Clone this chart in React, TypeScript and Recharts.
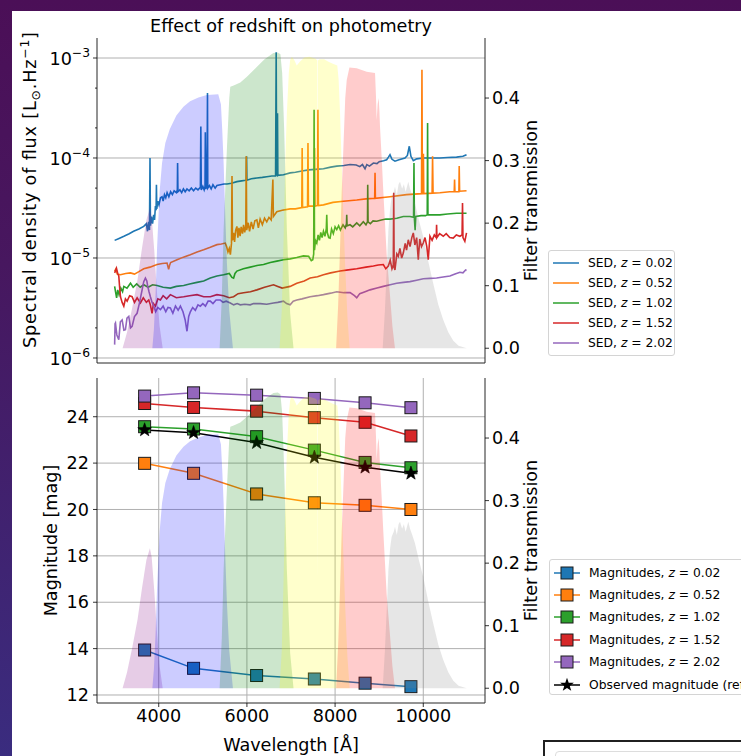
import React from 'react';
import { LineChart, ComposedChart, Line, Area, XAxis, YAxis, CartesianGrid } from 'recharts';

// ---------- layout & style ----------
const FONT = '"DejaVu Sans", Verdana, sans-serif';
const INK = '#000000';
const FRAME = '#262626';
const GRID = '#b0b0b0';
const FS = 17.6;
const FS_SMALL = 12.3;

const PAGE_W = 741;
const PAGE_H = 756;
const PLOT_L = 97;
const PLOT_R = 485;
const RIGHT_W = PAGE_W - PLOT_R;

// top panel (spectra)
const TOP_Y = 0;
const TOP_H = 380;
const TOP_PLOT_T = 38;
const TOP_PLOT_B = 363;
const TOP_XAXIS_H = 10;
// bottom panel (magnitudes)
const BOT_Y = 370;
const BOT_H = 386;
const BOT_PLOT_T = 378;
const BOT_PLOT_B = 703;
const BOT_XAXIS_H = 25;

// ---------- axes ----------
const wavelengthDomain: [number, number] = [2600, 11400];
const wavelengthTicks = [4000, 6000, 8000, 10000];
const fluxDomain: [number, number] = [8.91e-7, 1.585e-3];
const fluxMajorTicks = [1e-6, 1e-5, 1e-4, 1e-3];
const fluxMinorTicks = [
  2e-6, 3e-6, 4e-6, 5e-6, 6e-6, 7e-6, 8e-6, 9e-6,
  2e-5, 3e-5, 4e-5, 5e-5, 6e-5, 7e-5, 8e-5, 9e-5,
  2e-4, 3e-4, 4e-4, 5e-4, 6e-4, 7e-4, 8e-4, 9e-4,
];
const transDomain: [number, number] = [-0.0236, 0.496];
const transTicks = [0, 0.1, 0.2, 0.3, 0.4];
const magDomain: [number, number] = [11.655, 25.67];
const magTicks = [12, 14, 16, 18, 20, 22, 24];

// ---------- series ----------
const redshiftLabels = ['0.02', '0.52', '1.02', '1.52', '2.02'];
const seriesColors = ['#1f77b4', '#ff7f0e', '#2ca02c', '#d62728', '#9467bd'];

// SEDs: [wavelength (Å), flux density (L_sun/Hz)]
const sedZ002: [number, number][] = [
  [3000, 1.5e-5], [3100, 1.57e-5], [3210, 1.65e-5], [3330, 1.75e-5], [3430, 1.85e-5], [3550, 1.95e-5],
  [3660, 2.07e-5], [3720, 2.2e-5], [3745, 1.85e-5], [3770, 2.3e-5], [3790, 1.9e-5], [3802, 1.0e-4],
  [3812, 2.1e-5], [3835, 2.6e-5], [3860, 2.2e-5], [3885, 2.7e-5], [3905, 2.4e-5], [3925, 3.3e-5],
  [3940, 3.0e-5], [3948, 5.4e-5], [3956, 3.1e-5], [3980, 3.7e-5], [4005, 3.4e-5], [4040, 4.0e-5],
  [4075, 4.1e-5], [4100, 3.7e-5], [4130, 4.3e-5], [4160, 4.0e-5], [4190, 4.5e-5], [4230, 4.1e-5],
  [4270, 4.6e-5], [4310, 4.3e-5], [4350, 4.7e-5], [4400, 4.5e-5], [4422, 4.8e-5], [4428, 8.9e-5],
  [4436, 4.6e-5], [4480, 4.8e-5], [4520, 4.5e-5], [4560, 4.9e-5], [4600, 4.6e-5], [4641, 4.9e-5],
  [4690, 4.7e-5], [4740, 5.0e-5], [4790, 4.7e-5], [4840, 5.0e-5], [4890, 4.8e-5], [4945, 5.1e-5],
  [4955, 2.07e-4], [4965, 4.8e-5], [5000, 5.2e-5], [5030, 4.8e-5], [5050, 5.2e-5], [5057, 1.81e-4],
  [5064, 4.9e-5], [5085, 5.1e-5], [5100, 1.41e-4], [5106, 4.47e-4], [5112, 5.0e-5], [5150, 5.3e-5],
  [5190, 4.9e-5], [5230, 5.4e-5], [5280, 5.0e-5], [5320, 5.3e-5], [5400, 5.4e-5], [5480, 5.5e-5],
  [5550, 5.5e-5], [5650, 5.6e-5], [5773, 5.8e-5], [5880, 5.9e-5], [5985, 6.0e-5], [5992, 1.04e-4],
  [6000, 6.0e-5], [6100, 6.2e-5], [6226, 6.3e-5], [6350, 6.4e-5], [6450, 6.5e-5], [6566, 6.6e-5],
  [6650, 6.6e-5], [6664, 1.14e-3], [6674, 6.8e-5], [6688, 6.7e-5], [6694, 2.8e-4], [6702, 6.7e-5],
  [6830, 6.8e-5], [6981, 7.1e-5], [7100, 7.2e-5], [7250, 7.4e-5], [7400, 7.6e-5], [7550, 7.7e-5],
  [7736, 7.8e-5], [7900, 8.1e-5], [8038, 8.3e-5], [8200, 8.4e-5], [8340, 8.6e-5], [8480, 8.5e-5],
  [8560, 8.2e-5], [8620, 8.6e-5], [8679, 7.8e-5], [8720, 8.6e-5], [8780, 8.3e-5], [8868, 8.9e-5],
  [8950, 8.8e-5], [9000, 9.2e-5], [9100, 9.4e-5], [9170, 9.6e-5], [9210, 1.02e-4], [9245, 1.08e-4],
  [9290, 9.7e-5], [9358, 9.3e-5], [9450, 9.6e-5], [9585, 1.0e-4], [9640, 1.06e-4], [9683, 1.31e-4],
  [9720, 1.04e-4], [9774, 9.4e-5], [9850, 9.8e-5], [10000, 1.0e-4], [10200, 1.0e-4], [10377, 1.0e-4],
  [10550, 1.01e-4], [10755, 1.02e-4], [10900, 1.04e-4], [10981, 1.08e-4],
];

const sedZ052: [number, number][] = [
  [3000, 7.4e-6], [3030, 7.8e-6], [3060, 6.9e-6], [3132, 6.8e-6], [3250, 7.0e-6], [3359, 7.1e-6],
  [3450, 6.9e-6], [3550, 7.3e-6], [3660, 7.8e-6], [3800, 8.1e-6], [3962, 8.6e-6], [4080, 8.8e-6],
  [4189, 8.9e-6], [4225, 7.7e-6], [4245, 8.4e-6], [4270, 9.0e-6], [4415, 9.6e-6], [4560, 1.02e-5],
  [4717, 1.08e-5], [4870, 1.15e-5], [5019, 1.21e-5], [5170, 1.28e-5], [5321, 1.36e-5], [5420, 1.38e-5],
  [5509, 1.41e-5], [5540, 1.3e-5], [5570, 1.15e-5], [5600, 1.25e-5], [5625, 1.08e-5], [5650, 1.4e-5],
  [5662, 6.6e-5], [5672, 1.5e-5], [5698, 1.78e-5], [5720, 1.45e-5], [5745, 1.9e-5], [5773, 2.07e-5],
  [5795, 1.6e-5], [5820, 2.0e-5], [5845, 1.65e-5], [5870, 2.05e-5], [5900, 1.75e-5], [5925, 2.15e-5],
  [5950, 1.8e-5], [5975, 2.1e-5], [5985, 1.04e-4], [5995, 1.9e-5], [6030, 2.25e-5], [6060, 1.85e-5],
  [6100, 2.3e-5], [6140, 1.95e-5], [6180, 2.35e-5], [6226, 2.4e-5], [6260, 2.0e-5], [6300, 2.45e-5],
  [6350, 2.15e-5], [6400, 2.5e-5], [6450, 2.3e-5], [6500, 2.55e-5], [6550, 2.4e-5], [6589, 6.1e-5],
  [6600, 2.6e-5], [6679, 2.9e-5], [6800, 3.0e-5], [6981, 3.1e-5], [7100, 3.1e-5], [7245, 3.2e-5],
  [7253, 1.26e-4], [7262, 3.2e-5], [7375, 3.25e-5], [7385, 1.41e-4], [7395, 3.3e-5], [7525, 3.3e-5],
  [7535, 1.26e-4], [7545, 3.3e-5], [7600, 3.35e-5], [7611, 3.04e-4], [7622, 3.35e-5], [7736, 3.4e-5],
  [7950, 3.6e-5], [8189, 3.7e-5], [8491, 3.8e-5], [8700, 3.9e-5], [8898, 3.95e-5], [8906, 7.1e-5],
  [8914, 3.95e-5], [9245, 4.1e-5], [9622, 4.3e-5], [9960, 4.4e-5], [9970, 7.64e-4], [9980, 4.4e-5],
  [9995, 4.4e-5], [10003, 1.1e-4], [10012, 4.4e-5], [10200, 4.45e-5], [10211, 1.04e-4], [10222, 4.45e-5],
  [10377, 4.5e-5], [10600, 4.6e-5], [10702, 4.6e-5], [10710, 6.1e-5], [10718, 4.6e-5], [10808, 4.6e-5],
  [10815, 8.3e-5], [10824, 4.65e-5], [10981, 4.7e-5],
];

const sedZ102: [number, number][] = [
  [3000, 5.2e-6], [3020, 4.6e-6], [3045, 4.0e-6], [3070, 4.8e-6], [3100, 4.3e-6], [3140, 5.0e-6],
  [3180, 4.6e-6], [3208, 5.2e-6], [3280, 5.0e-6], [3359, 5.6e-6], [3420, 5.1e-6], [3500, 5.5e-6],
  [3580, 5.1e-6], [3660, 5.4e-6], [3760, 5.1e-6], [3860, 5.4e-6], [3962, 5.3e-6], [4100, 5.1e-6],
  [4264, 5.0e-6], [4400, 5.2e-6], [4566, 5.3e-6], [4700, 5.5e-6], [4868, 5.7e-6], [5020, 5.9e-6],
  [5170, 6.3e-6], [5320, 6.6e-6], [5472, 6.8e-6], [5600, 7.0e-6], [5660, 6.4e-6], [5698, 6.3e-6],
  [5730, 7.0e-6], [5773, 7.4e-6], [5920, 7.8e-6], [6075, 8.1e-6], [6226, 8.4e-6], [6377, 8.6e-6],
  [6530, 9.0e-6], [6679, 9.3e-6], [6830, 9.6e-6], [6981, 9.8e-6], [7130, 1.01e-5], [7283, 1.05e-5],
  [7400, 1.04e-5], [7460, 9.4e-6], [7494, 9.6e-6], [7515, 1.1e-5], [7524, 3.04e-4], [7533, 1.2e-5],
  [7555, 1.5e-5], [7585, 1.41e-5], [7615, 1.7e-5], [7645, 1.5e-5], [7675, 1.8e-5], [7705, 1.6e-5],
  [7736, 1.85e-5], [7770, 1.65e-5], [7800, 1.95e-5], [7811, 2.7e-5], [7822, 1.8e-5], [7855, 1.6e-5],
  [7887, 1.58e-5], [7920, 1.95e-5], [7960, 1.75e-5], [8000, 2.05e-5], [8038, 1.92e-5], [8080, 2.1e-5],
  [8120, 1.9e-5], [8180, 2.15e-5], [8230, 2.0e-5], [8258, 2.2e-5], [8264, 2.7e-5], [8272, 2.1e-5],
  [8340, 2.15e-5], [8400, 2.05e-5], [8491, 2.24e-5], [8560, 2.1e-5], [8640, 2.3e-5], [8700, 2.15e-5],
  [8735, 2.3e-5], [8740, 5.4e-5], [8748, 2.3e-5], [8800, 2.2e-5], [8860, 2.35e-5], [8943, 2.33e-5],
  [9050, 2.4e-5], [9150, 2.45e-5], [9245, 2.45e-5], [9400, 2.5e-5], [9547, 2.6e-5], [9700, 2.6e-5],
  [9780, 2.55e-5], [9789, 8.9e-5], [9798, 2.5e-5], [9815, 1.9e-5], [9830, 2.6e-5], [9950, 2.65e-5],
  [10050, 2.65e-5], [10090, 2.7e-5], [10098, 2.24e-4], [10106, 2.7e-5], [10250, 2.7e-5], [10377, 2.7e-5],
  [10550, 2.75e-5], [10755, 2.8e-5], [10900, 2.8e-5], [10981, 2.8e-5],
];

const sedZ152: [number, number][] = [
  [3000, 7.1e-6], [3041, 7.9e-6], [3070, 7.0e-6], [3094, 6.6e-6], [3115, 5.0e-6], [3132, 4.1e-6],
  [3170, 3.6e-6], [3208, 3.3e-6], [3245, 3.9e-6], [3283, 3.7e-6], [3340, 4.2e-6], [3396, 4.1e-6],
  [3450, 3.6e-6], [3510, 4.0e-6], [3585, 3.55e-6], [3650, 4.0e-6], [3720, 3.6e-6], [3774, 3.8e-6],
  [3810, 3.4e-6], [3849, 2.8e-6], [3880, 3.5e-6], [3925, 3.3e-6], [3980, 3.9e-6], [4038, 3.8e-6],
  [4100, 4.2e-6], [4180, 3.9e-6], [4264, 4.3e-6], [4400, 4.0e-6], [4566, 4.1e-6], [4700, 4.2e-6],
  [4868, 4.3e-6], [5020, 4.1e-6], [5170, 4.1e-6], [5320, 4.3e-6], [5472, 4.2e-6], [5600, 4.0e-6],
  [5698, 4.1e-6], [5800, 4.4e-6], [5925, 4.5e-6], [6080, 4.6e-6], [6226, 4.8e-6], [6400, 5.1e-6],
  [6604, 5.4e-6], [6700, 5.2e-6], [6800, 5.0e-6], [6981, 5.2e-6], [7132, 5.6e-6], [7300, 5.9e-6],
  [7434, 6.3e-6], [7600, 6.5e-6], [7736, 6.8e-6], [7900, 7.1e-6], [8113, 7.4e-6], [8300, 7.6e-6],
  [8491, 7.8e-6], [8700, 8.1e-6], [8868, 8.3e-6], [8980, 8.5e-6], [9094, 8.6e-6], [9150, 7.8e-6],
  [9207, 8.3e-6], [9250, 9.5e-6], [9290, 7.8e-6], [9320, 8.5e-6], [9330, 4.5e-5], [9340, 8.0e-6],
  [9358, 7.6e-6], [9400, 1.1e-5], [9434, 1.04e-5], [9470, 1.25e-5], [9510, 1.0e-5], [9547, 1.12e-5],
  [9590, 1.4e-5], [9620, 1.2e-5], [9660, 1.52e-5], [9700, 1.3e-5], [9740, 1.6e-5], [9774, 1.78e-5],
  [9810, 1.35e-5], [9850, 1.6e-5], [9887, 9.6e-6], [9920, 1.55e-5], [9960, 1.3e-5], [10000, 1.41e-5],
  [10040, 1.6e-5], [10080, 1.3e-5], [10113, 9.6e-6], [10151, 1.65e-5], [10200, 1.5e-5], [10250, 1.7e-5],
  [10295, 1.6e-5], [10302, 2.15e-5], [10310, 1.6e-5], [10370, 1.75e-5], [10453, 1.65e-5], [10520, 1.75e-5],
  [10600, 1.6e-5], [10679, 1.58e-5], [10750, 1.7e-5], [10830, 1.65e-5], [10880, 1.7e-5], [10890, 3.55e-5],
  [10900, 1.6e-5], [10943, 1.47e-5], [10981, 1.78e-5],
];

const sedZ202: [number, number][] = [
  [3000, 1.36e-6], [3010, 2.2e-6], [3019, 2.24e-6], [3050, 1.7e-6], [3094, 1.52e-6], [3130, 2.3e-6],
  [3170, 2.4e-6], [3210, 1.9e-6], [3245, 1.92e-6], [3280, 2.5e-6], [3321, 2.6e-6], [3360, 2.0e-6],
  [3396, 2.07e-6], [3450, 2.6e-6], [3509, 2.8e-6], [3560, 3.5e-6], [3623, 4.8e-6], [3660, 5.8e-6],
  [3698, 6.3e-6], [3730, 5.9e-6], [3751, 5.2e-6], [3780, 4.6e-6], [3811, 4.1e-6], [3850, 3.6e-6],
  [3887, 3.3e-6], [3930, 2.9e-6], [3980, 3.2e-6], [4038, 3.04e-6], [4100, 3.3e-6], [4160, 2.9e-6],
  [4210, 3.2e-6], [4264, 3.16e-6], [4320, 2.8e-6], [4380, 3.3e-6], [4440, 3.0e-6], [4491, 3.3e-6],
  [4550, 2.9e-6], [4600, 2.4e-6], [4641, 1.85e-6], [4680, 2.6e-6], [4717, 2.9e-6], [4770, 3.2e-6],
  [4830, 3.0e-6], [4890, 3.4e-6], [4943, 3.3e-6], [5000, 3.5e-6], [5060, 3.3e-6], [5120, 3.7e-6],
  [5170, 3.7e-6], [5230, 3.5e-6], [5300, 3.8e-6], [5396, 3.8e-6], [5460, 3.6e-6], [5530, 3.7e-6],
  [5623, 3.55e-6], [5700, 3.4e-6], [5780, 3.5e-6], [5849, 3.4e-6], [5950, 3.45e-6], [6075, 3.4e-6],
  [6150, 3.5e-6], [6302, 3.5e-6], [6450, 3.45e-6], [6604, 3.55e-6], [6700, 3.6e-6], [6830, 3.7e-6],
  [6900, 3.5e-6], [6981, 3.4e-6], [7050, 3.7e-6], [7132, 3.8e-6], [7250, 3.9e-6], [7434, 4.1e-6],
  [7600, 4.2e-6], [7736, 4.3e-6], [7900, 4.45e-6], [8038, 4.6e-6], [8200, 4.5e-6], [8340, 4.5e-6],
  [8440, 4.2e-6], [8491, 4.0e-6], [8560, 4.4e-6], [8680, 4.6e-6], [8792, 4.8e-6], [8950, 5.0e-6],
  [9094, 5.2e-6], [9250, 5.4e-6], [9396, 5.6e-6], [9550, 5.7e-6], [9698, 5.8e-6], [9850, 6.0e-6],
  [10000, 6.2e-6], [10150, 6.25e-6], [10302, 6.3e-6], [10450, 6.45e-6], [10604, 6.6e-6], [10720, 6.9e-6],
  [10830, 7.2e-6], [10900, 7.1e-6], [10960, 7.6e-6], [10981, 7.5e-6],
];

const sedSpectra = [sedZ002, sedZ052, sedZ102, sedZ152, sedZ202];

// Filter transmission curves: [wavelength (Å), transmission]
const filterU: [number, number][] = [
  [3180, 0], [3280, 0.025], [3400, 0.065], [3520, 0.11], [3620, 0.16], [3720, 0.205], [3800, 0.224],
  [3840, 0.21], [3900, 0.155], [3960, 0.09], [4020, 0.035], [4090, 0],
];
const filterG: [number, number][] = [
  [3855, 0], [3890, 0.03], [3930, 0.09], [3962, 0.16], [4020, 0.25], [4075, 0.296], [4150, 0.328],
  [4250, 0.35], [4400, 0.372], [4560, 0.386], [4710, 0.395], [4900, 0.401], [5090, 0.405], [5350, 0.406],
  [5411, 0.39], [5440, 0.35], [5472, 0.296], [5510, 0.21], [5547, 0.136], [5600, 0.06], [5683, 0],
];
const filterR: [number, number][] = [
  [5381, 0], [5430, 0.08], [5472, 0.19], [5547, 0.32], [5600, 0.4], [5623, 0.418], [5700, 0.42],
  [5850, 0.425], [6000, 0.434], [6200, 0.448], [6400, 0.462], [6600, 0.472], [6700, 0.473], [6760, 0.47],
  [6800, 0.44], [6845, 0.35], [6906, 0.19], [6981, 0.056], [7057, 0],
];
const filterI: [number, number][] = [
  [6740, 0], [6790, 0.06], [6830, 0.17], [6870, 0.3], [6906, 0.376], [6950, 0.44], [6981, 0.461],
  [7020, 0.466], [7080, 0.46], [7130, 0.452], [7200, 0.458], [7300, 0.465], [7420, 0.466], [7560, 0.463],
  [7596, 0.46], [7603, 0.17], [7610, 0.46], [7650, 0.462], [7750, 0.462], [7850, 0.458], [7950, 0.455],
  [8050, 0.452], [8080, 0.43], [8113, 0.376], [8173, 0.242], [8226, 0.136], [8280, 0.05], [8330, 0],
];
const filterZ: [number, number][] = [
  [8023, 0], [8070, 0.07], [8113, 0.162], [8150, 0.25], [8189, 0.322], [8230, 0.4], [8264, 0.429],
  [8325, 0.449], [8491, 0.4475], [8717, 0.442], [8906, 0.44], [8928, 0.402], [8943, 0.365], [8965, 0.39],
  [8988, 0.4], [9005, 0.38], [9019, 0.354], [9060, 0.3], [9094, 0.25], [9170, 0.15], [9245, 0.085],
  [9300, 0.035], [9358, 0],
];
const filterY: [number, number][] = [
  [9079, 0], [9130, 0.06], [9180, 0.14], [9210, 0.19], [9250, 0.225], [9283, 0.242], [9330, 0.25],
  [9359, 0.258], [9400, 0.245], [9440, 0.262], [9472, 0.266], [9520, 0.255], [9560, 0.262], [9600, 0.25],
  [9661, 0.266], [9700, 0.255], [9750, 0.245], [9812, 0.232], [9900, 0.205], [10000, 0.178], [10110, 0.14],
  [10227, 0.103], [10340, 0.07], [10454, 0.045], [10570, 0.025], [10681, 0.012], [10800, 0.004], [10985, 0],
];
const filterCurves = [filterU, filterG, filterR, filterI, filterZ, filterY];
const filterColors = ['#800080', '#0000ff', '#008000', '#ffff00', '#ff0000', '#808080'];

// Synthetic magnitudes at each band's effective wavelength
const bandWavelengths = [3680, 4790, 6220, 7530, 8680, 9720];
const magZ002 = [13.94, 13.15, 12.84, 12.69, 12.51, 12.36];
const magZ052 = [21.99, 21.56, 20.67, 20.29, 20.18, 20.0];
const magZ102 = [23.57, 23.47, 23.14, 22.56, 22.03, 21.8];
const magZ152 = [24.57, 24.4, 24.24, 23.96, 23.76, 23.17];
const magZ202 = [24.89, 25.03, 24.93, 24.79, 24.6, 24.39];
const magObserved = [23.43, 23.31, 22.88, 22.25, 21.82, 21.56];
const magnitudes = [magZ002, magZ052, magZ102, magZ152, magZ202];

// ---------- helpers ----------
const toFlux = (s: [number, number][]) => s.map(([w, f]) => ({ w, f }));
const toTrans = (s: [number, number][]) => s.map(([w, t]) => ({ w, t }));
const toMag = (m: number[]) => bandWavelengths.map((w, i) => ({ w, m: m[i] }));

const starPath = (cx: number, cy: number, R: number, r: number) => {
  let d = '';
  for (let i = 0; i < 10; i++) {
    const a = -Math.PI / 2 + (i * Math.PI) / 5;
    const rad = i % 2 === 0 ? R : r;
    d += (i === 0 ? 'M' : 'L') + (cx + rad * Math.cos(a)).toFixed(2) + ',' + (cy + rad * Math.sin(a)).toFixed(2);
  }
  return d + 'Z';
};

const squareDot = (color: string) => (p: any) => {
  const { cx, cy, index } = p;
  if (cx == null || cy == null) return <g key={`s${index}`} />;
  return (
    <rect key={`s${index}`} x={cx - 6} y={cy - 6} width={12} height={12} fill={color} stroke="#1a1a1a" strokeWidth={1} />
  );
};

const starDot = (p: any) => {
  const { cx, cy, index } = p;
  if (cx == null || cy == null) return <g key={`k${index}`} />;
  return <path key={`k${index}`} d={starPath(cx, cy, 7.2, 2.9)} fill="#000" stroke="#000" strokeWidth={0.6} />;
};

// log axis tick: long tick + 10^n label for decades, short tick for the rest
const PowerTick = (props: any) => {
  const { x, y, payload } = props;
  const v = payload.value as number;
  const major = fluxMajorTicks.includes(v);
  const exp = Math.round(Math.log10(v));
  const len = major ? 4 : 2;
  return (
    <g>
      <line x1={PLOT_L - len} x2={PLOT_L} y1={y} y2={y} stroke={INK} strokeWidth={0.8} />
      {major && (
        <text x={x} y={y + 7} textAnchor="end" fontSize={FS} fontFamily={FONT} fill={INK}>
          10
          <tspan dy={-8} fontSize={FS_SMALL}>{`\u2212${-exp}`}</tspan>
        </text>
      )}
    </g>
  );
};

const tickText = { fontSize: FS, fill: INK, fontFamily: FONT };
const axisStroke = { stroke: FRAME, strokeWidth: 1 };
const tickStroke = { stroke: INK, strokeWidth: 0.8 };

// ---------- legend ----------
type LegendItem = { label: React.ReactNode; color: string; marker: 'none' | 'square' | 'star' };

const zLabel = (prefix: string, z: string) => (
  <>
    {prefix}, <span style={{ fontStyle: 'italic' }}>z</span> = {z}
  </>
);

const LegendBox = ({ left, top, width, height, first, step, items }: {
  left: number; top: number; width: number; height: number; first: number; step: number; items: LegendItem[];
}) => (
  <div
    style={{
      position: 'absolute', left, top, width, height, boxSizing: 'border-box',
      border: '1px solid #d4d4d4', borderRadius: 3, background: 'rgba(255,255,255,0.85)',
      fontFamily: FONT, fontSize: FS_SMALL, color: INK,
    }}
  >
    {items.map((it, i) => (
      <div
        key={i}
        style={{
          position: 'absolute', left: 0, top: first + i * step - 10, height: 20,
          display: 'flex', alignItems: 'center', whiteSpace: 'nowrap',
        }}
      >
        <svg width={39} height={20} style={{ display: 'block', flex: '0 0 auto' }}>
          <line x1={4} x2={30} y1={10} y2={10} stroke={it.color} strokeWidth={1.5} />
          {it.marker === 'square' && (
            <rect x={11} y={4} width={12} height={12} fill={it.color} stroke="#1a1a1a" strokeWidth={1} />
          )}
          {it.marker === 'star' && <path d={starPath(17, 10, 7.2, 2.9)} fill="#000" />}
        </svg>
        <span style={{ lineHeight: '20px' }}>{it.label}</span>
      </div>
    ))}
  </div>
);

const sedLegend: LegendItem[] = redshiftLabels.map((z, i) => ({
  label: zLabel('SED', z), color: seriesColors[i], marker: 'none',
}));
const magLegend: LegendItem[] = [
  ...redshiftLabels.map((z, i) => ({ label: zLabel('Magnitudes', z), color: seriesColors[i], marker: 'square' as const })),
  { label: 'Observed magnitude (reference)', color: '#000', marker: 'star' },
];

// ---------- panels ----------
const FilterOverlay = ({ height, plotTop, plotBottom }: { height: number; plotTop: number; plotBottom: number }) => (
  <ComposedChart
    width={PAGE_W}
    height={height}
    margin={{ top: plotTop, left: PLOT_L, right: RIGHT_W, bottom: height - plotBottom }}
  >
    <XAxis dataKey="w" type="number" domain={wavelengthDomain} allowDataOverflow hide />
    <YAxis type="number" domain={transDomain} allowDataOverflow hide />
    {filterCurves.map((c, i) => (
      <Area
        key={i}
        data={toTrans(c)}
        dataKey="t"
        type="linear"
        baseValue={0}
        fill={filterColors[i]}
        fillOpacity={0.2}
        stroke="none"
        dot={false}
        activeDot={false}
        isAnimationActive={false}
      />
    ))}
  </ComposedChart>
);

const TransmissionAxis = () => (
  <YAxis
    yAxisId="t"
    orientation="right"
    type="number"
    domain={transDomain}
    allowDataOverflow
    ticks={transTicks}
    width={RIGHT_W}
    tickSize={4}
    tickMargin={3}
    tick={tickText}
    tickLine={tickStroke}
    axisLine={axisStroke}
    tickFormatter={(v: number) => v.toFixed(1)}
  />
);

export default function App() {
  const topPlotTop = TOP_PLOT_T - TOP_Y;
  const topPlotBottom = TOP_PLOT_B - TOP_Y;
  const botPlotTop = BOT_PLOT_T - BOT_Y;
  const botPlotBottom = BOT_PLOT_B - BOT_Y;

  return (
    <div
      style={{
        position: 'fixed', left: 0, top: 0, width: PAGE_W, height: PAGE_H, overflow: 'hidden',
        background: 'linear-gradient(180deg, #4b0f57 0%, #47175f 35%, #3a2c7f 100%)',
      }}
    >
      <div style={{ position: 'absolute', left: 12, top: 11, right: 0, bottom: 0, background: '#ffffff' }} />

      {/* spectra panel */}
      <div style={{ position: 'absolute', left: 0, top: TOP_Y, width: PAGE_W, height: TOP_H }}>
        <div style={{ position: 'absolute', left: 0, top: 0 }}>
          <LineChart
            width={PAGE_W}
            height={TOP_H}
            margin={{ top: topPlotTop, left: 0, right: 0, bottom: TOP_H - topPlotBottom - TOP_XAXIS_H }}
          >
            <CartesianGrid stroke={GRID} strokeWidth={1} horizontalValues={fluxMajorTicks} verticalValues={wavelengthTicks} />
            <XAxis
              dataKey="w"
              type="number"
              domain={wavelengthDomain}
              allowDataOverflow
              ticks={wavelengthTicks}
              height={TOP_XAXIS_H}
              tick={false}
              tickSize={4}
              tickLine={tickStroke}
              axisLine={axisStroke}
            />
            <XAxis
              xAxisId="top"
              orientation="top"
              type="number"
              domain={wavelengthDomain}
              allowDataOverflow
              height={0}
              tick={false}
              tickLine={false}
              axisLine={axisStroke}
            />
            <YAxis
              type="number"
              scale="log"
              domain={fluxDomain}
              allowDataOverflow
              ticks={[...fluxMajorTicks, ...fluxMinorTicks].sort((a, b) => a - b)}
              width={PLOT_L}
              tickSize={4}
              tickMargin={3}
              tickLine={false}
              tick={<PowerTick />}
              axisLine={axisStroke}
            />
            {TransmissionAxis()}
            {sedSpectra.map((s, i) => (
              <Line
                key={i}
                data={toFlux(s)}
                dataKey="f"
                type="linear"
                stroke={seriesColors[i]}
                strokeWidth={1.6}
                dot={false}
                activeDot={false}
                isAnimationActive={false}
              />
            ))}
          </LineChart>
        </div>
        <div style={{ position: 'absolute', left: 0, top: 0, pointerEvents: 'none' }}>
          <FilterOverlay height={TOP_H} plotTop={topPlotTop} plotBottom={topPlotBottom} />
        </div>
      </div>

      {/* magnitude panel */}
      <div style={{ position: 'absolute', left: 0, top: BOT_Y, width: PAGE_W, height: BOT_H }}>
        <div style={{ position: 'absolute', left: 0, top: 0 }}>
          <LineChart
            width={PAGE_W}
            height={BOT_H}
            margin={{ top: botPlotTop, left: 0, right: 0, bottom: BOT_H - botPlotBottom - BOT_XAXIS_H }}
          >
            <CartesianGrid stroke={GRID} strokeWidth={1} horizontalValues={magTicks} verticalValues={wavelengthTicks} />
            <XAxis
              dataKey="w"
              type="number"
              domain={wavelengthDomain}
              allowDataOverflow
              ticks={wavelengthTicks}
              height={BOT_XAXIS_H}
              tick={tickText}
              tickSize={4}
              tickMargin={3}
              tickLine={tickStroke}
              axisLine={axisStroke}
            />
            <XAxis
              xAxisId="top"
              orientation="top"
              type="number"
              domain={wavelengthDomain}
              allowDataOverflow
              height={0}
              tick={false}
              tickLine={false}
              axisLine={axisStroke}
            />
            <YAxis
              type="number"
              domain={magDomain}
              allowDataOverflow
              ticks={magTicks}
              width={PLOT_L}
              tickSize={4}
              tickMargin={4}
              tick={tickText}
              tickLine={tickStroke}
              axisLine={axisStroke}
            />
            {TransmissionAxis()}
            {magnitudes.map((m, i) => (
              <Line
                key={i}
                data={toMag(m)}
                dataKey="m"
                type="linear"
                stroke={seriesColors[i]}
                strokeWidth={1.5}
                dot={squareDot(seriesColors[i])}
                activeDot={false}
                isAnimationActive={false}
              />
            ))}
            <Line
              data={toMag(magObserved)}
              dataKey="m"
              type="linear"
              stroke="#000"
              strokeWidth={1.5}
              dot={starDot}
              activeDot={false}
              isAnimationActive={false}
            />
          </LineChart>
        </div>
        <div style={{ position: 'absolute', left: 0, top: 0, pointerEvents: 'none' }}>
          <FilterOverlay height={BOT_H} plotTop={botPlotTop} plotBottom={botPlotBottom} />
        </div>
      </div>

      {/* titles and axis labels */}
      <svg
        width={PAGE_W}
        height={PAGE_H}
        style={{ position: 'absolute', left: 0, top: 0, pointerEvents: 'none' }}
        fontFamily={FONT}
        fill={INK}
      >
        <text x={(PLOT_L + PLOT_R) / 2} y={32} textAnchor="middle" fontSize={FS}>
          Effect of redshift on photometry
        </text>
        <text x={36} y={190} textAnchor="middle" fontSize={FS} transform="rotate(-90 36 190)"
          textLength={316} lengthAdjust="spacing">
          Spectral density of flux [L
          <tspan fontSize={FS_SMALL} dy={4}>{'\u2299'}</tspan>
          <tspan fontSize={FS} dy={-4}>.Hz</tspan>
          <tspan fontSize={FS_SMALL} dy={-7}>{'\u22121'}</tspan>
          <tspan fontSize={FS} dy={7}>]</tspan>
        </text>
        <text x={57} y={(BOT_PLOT_T + BOT_PLOT_B) / 2} textAnchor="middle" fontSize={FS}
          transform={`rotate(-90 57 ${(BOT_PLOT_T + BOT_PLOT_B) / 2})`}>
          Magnitude [mag]
        </text>
        <text x={537} y={(TOP_PLOT_T + TOP_PLOT_B) / 2} textAnchor="middle" fontSize={FS}
          transform={`rotate(-90 537 ${(TOP_PLOT_T + TOP_PLOT_B) / 2})`}>
          Filter transmission
        </text>
        <text x={537} y={(BOT_PLOT_T + BOT_PLOT_B) / 2} textAnchor="middle" fontSize={FS}
          transform={`rotate(-90 537 ${(BOT_PLOT_T + BOT_PLOT_B) / 2})`}>
          Filter transmission
        </text>
        <text x={(PLOT_L + PLOT_R) / 2} y={751} textAnchor="middle" fontSize={FS}>
          Wavelength [Å]
        </text>
      </svg>

      <LegendBox left={548} top={250} width={127} height={106} first={12} step={20} items={sedLegend} />
      <LegendBox left={549} top={559} width={260} height={136} first={12.5} step={22.4} items={magLegend} />

      {/* framed box below the legends */}
      <div style={{ position: 'absolute', left: 543, top: 740, width: 260, height: 60, border: '2px solid #202020' }} />
      <div style={{ position: 'absolute', left: 555, top: 751, width: 240, height: 40, border: '1px solid #dddddd', borderRadius: 4 }} />
    </div>
  );
}
